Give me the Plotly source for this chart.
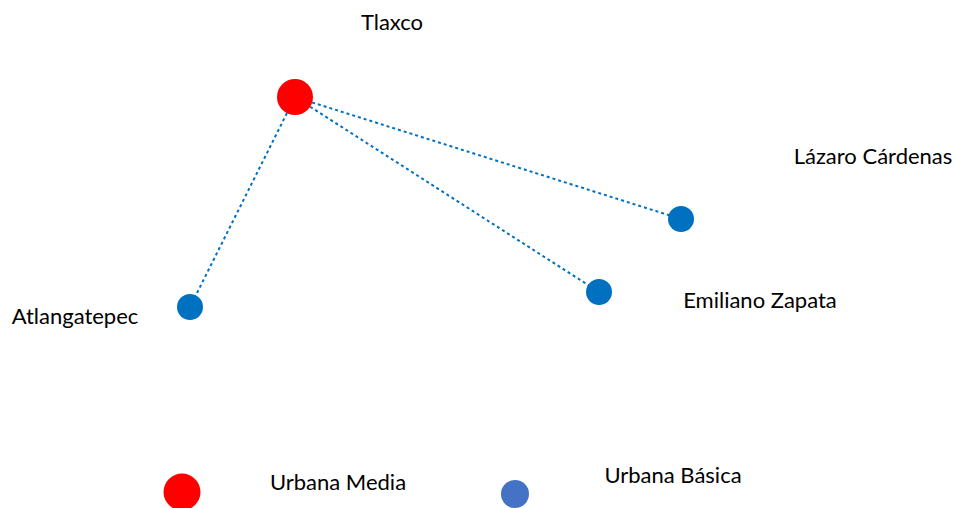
import plotly.graph_objects as go

# Nodes (positions in the diagram's pixel-like coordinate space)
node_names = ["Tlaxco", "Lázaro Cárdenas", "Emiliano Zapata", "Atlangatepec"]
node_x = [295, 681, 599, 190]
node_y = [97, 219, 292, 307]
node_type = ["Urbana Media", "Urbana Básica", "Urbana Básica", "Urbana Básica"]

# Label positions
label_x = [392, 873, 760, 75]
label_y = [24, 158, 302, 318]

# Edges (source index, target index)
edges = [(0, 1), (0, 2), (0, 3)]

# Legend
legend_names = ["Urbana Media", "Urbana Básica"]
legend_marker_x = [182, 515]
legend_marker_y = [492, 494]
legend_label_x = [338, 673]
legend_label_y = [484, 477]

node_color = {"Urbana Media": "#FF0000", "Urbana Básica": "#0070C0"}
node_size = {"Urbana Media": 36, "Urbana Básica": 26}
legend_color = {"Urbana Media": "#FF0000", "Urbana Básica": "#4472C4"}
legend_size = {"Urbana Media": 37, "Urbana Básica": 28}

FONT = "Lato, Calibri, Carlito, sans-serif"
FSIZE = 22

fig = go.Figure()

for s, t in edges:
    fig.add_trace(go.Scatter(
        x=[node_x[s], node_x[t]], y=[node_y[s], node_y[t]],
        mode="lines", line=dict(color="#0070C0", width=2, dash="dot"),
        hoverinfo="skip", showlegend=False))

fig.add_trace(go.Scatter(
    x=node_x, y=node_y, mode="markers",
    marker=dict(color=[node_color[t] for t in node_type], opacity=1,
                size=[node_size[t] for t in node_type], line=dict(width=0)),
    text=node_names, hoverinfo="text", showlegend=False))

fig.add_trace(go.Scatter(
    x=label_x, y=label_y, mode="text", text=node_names,
    textfont=dict(family=FONT, size=FSIZE, color="#000000"),
    hoverinfo="skip", showlegend=False, cliponaxis=False))

fig.add_trace(go.Scatter(
    x=legend_marker_x, y=legend_marker_y, mode="markers",
    marker=dict(color=[legend_color[n] for n in legend_names], opacity=1,
                size=[legend_size[n] for n in legend_names], line=dict(width=0)),
    hoverinfo="skip", showlegend=False, cliponaxis=False))

fig.add_trace(go.Scatter(
    x=legend_label_x, y=legend_label_y, mode="text", text=legend_names,
    textfont=dict(family=FONT, size=FSIZE, color="#000000"),
    hoverinfo="skip", showlegend=False, cliponaxis=False))

fig.update_layout(
    width=954, height=508,
    margin=dict(l=0, r=0, t=0, b=0),
    paper_bgcolor="white", plot_bgcolor="white",
    xaxis=dict(range=[0, 954], visible=False, fixedrange=True),
    yaxis=dict(range=[508, 0], visible=False, fixedrange=True),
    showlegend=False,
)

fig.write_html(
    "out.html",
    config={"displayModeBar": False, "staticPlot": False},
    post_script="document.body.style.margin='0';document.body.style.overflow='hidden';",
)
